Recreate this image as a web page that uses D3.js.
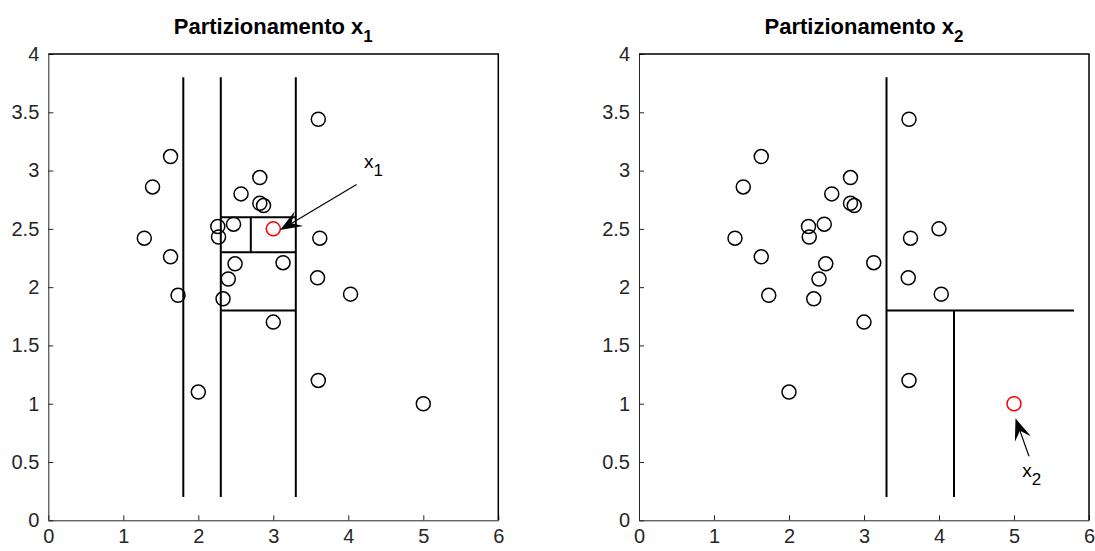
<!DOCTYPE html>
<html>
<head>
<meta charset="utf-8">
<script src="https://cdn.jsdelivr.net/npm/d3@7"></script>
<style>
  body { margin: 0; background: #fff; }
  svg { display: block; font-family: "Liberation Sans", Arial, Helvetica, sans-serif; }
</style>
</head>
<body>
<svg id="chart" width="1095" height="551"></svg>
<script>
// data
var xTicks = [0, 1, 2, 3, 4, 5, 6];
var yTicks = [0, 0.5, 1, 1.5, 2, 2.5, 3, 3.5, 4];

// points shared by both panels
var ptX = [3.60, 1.63, 1.39, 2.82, 2.57, 2.82, 2.87, 2.26, 2.47, 2.27, 1.28, 3.62,
           1.63, 2.49, 3.13, 2.40, 3.59, 1.73, 2.33, 4.03, 3.00, 3.60, 2.00];
var ptY = [3.44, 3.12, 2.86, 2.94, 2.80, 2.72, 2.70, 2.52, 2.54, 2.43, 2.42, 2.42,
           2.26, 2.20, 2.21, 2.07, 2.08, 1.93, 1.90, 1.94, 1.70, 1.20, 1.10];

// query points and the extra black point of each panel
var query1 = [3, 2.5];
var query2 = [5, 1];
var extra1 = [5, 1];
var extra2 = [4, 2.5];

// partition segments [x1, y1, x2, y2]
var cuts1 = [
  [1.8, 0.2, 1.8, 3.8],
  [2.3, 0.2, 2.3, 3.8],
  [3.3, 0.2, 3.3, 3.8],
  [2.3, 2.6, 3.3, 2.6],
  [2.3, 2.3, 3.3, 2.3],
  [2.3, 1.8, 3.3, 1.8],
  [2.7, 2.3, 2.7, 2.6]
];
var cuts2 = [
  [3.3, 0.2, 3.3, 3.8],
  [3.3, 1.8, 5.8, 1.8],
  [4.2, 0.2, 4.2, 1.8]
];

// arrows: tail, tip, label anchor
var arrow1 = {from: [4.11, 2.88], to: [3.09, 2.49], label: [4.21, 3.02], sub: "1"};
var arrow2 = {from: [5.20, 0.55], to: [5.02, 0.875], label: [5.11, 0.37], sub: "2"};

var svg = d3.select("#chart");

function styleAxis(a) {
  a.select(".domain").attr("stroke", "#262626");
  a.selectAll(".tick line").attr("stroke", "#262626");
  a.selectAll("text").style("font-size", "20px").attr("fill", "#262626");
}

function panel(left, sub, extra, query, cuts, arrow) {
  var x = d3.scaleLinear().domain([0, 6]).range([left, left + 450]);
  var y = d3.scaleLinear().domain([0, 4]).range([520.3, 54]);
  var g = svg.append("g");

  // title
  var t = g.append("text")
      .attr("x", left + 225)
      .attr("y", 34)
      .attr("text-anchor", "middle")
      .style("font-size", "22px")
      .style("font-weight", "bold")
      .attr("fill", "#000");
  t.append("tspan").text("Partizionamento x");
  t.append("tspan").attr("dy", 8).style("font-size", "17px").text(sub);

  // axes
  g.append("g")
      .attr("transform", "translate(0,520.3)")
      .call(d3.axisBottom(x).tickValues(xTicks).tickSizeInner(-5).tickSizeOuter(0).tickPadding(9).tickFormat(d3.format("d")))
      .call(styleAxis);
  g.append("g")
      .attr("transform", "translate(" + left + ",0)")
      .call(d3.axisLeft(y).tickValues(yTicks).tickSizeInner(-5).tickSizeOuter(0).tickPadding(9).tickFormat(function(d) { return d; }))
      .call(styleAxis);
  // box top & right
  g.append("path")
      .attr("d", "M" + x(0) + "," + y(4) + "H" + x(6) + "V" + y(0))
      .attr("fill", "none")
      .attr("stroke", "#000")
      .attr("stroke-width", 1.5);

  // partition lines
  g.selectAll(".cut").data(cuts).enter().append("line")
      .attr("x1", function(d) { return x(d[0]); })
      .attr("y1", function(d) { return y(d[1]); })
      .attr("x2", function(d) { return x(d[2]); })
      .attr("y2", function(d) { return y(d[3]); })
      .attr("stroke", "#000")
      .attr("stroke-width", 2);

  // points
  var pts = ptX.map(function(v, i) { return [v, ptY[i]]; }).concat([extra]);
  g.selectAll(".pt").data(pts).enter().append("circle")
      .attr("cx", function(d) { return x(d[0]); })
      .attr("cy", function(d) { return y(d[1]); })
      .attr("r", 7)
      .attr("fill", "none")
      .attr("stroke", "#000")
      .attr("stroke-width", 1.5);
  g.append("circle")
      .attr("cx", x(query[0]))
      .attr("cy", y(query[1]))
      .attr("r", 7)
      .attr("fill", "none")
      .attr("stroke", "#ff0000")
      .attr("stroke-width", 1.5);

  // arrow
  var x0 = x(arrow.from[0]), y0 = y(arrow.from[1]);
  var x1 = x(arrow.to[0]), y1 = y(arrow.to[1]);
  var dx = x0 - x1, dy = y0 - y1, len = Math.sqrt(dx * dx + dy * dy);
  var ux = dx / len, uy = dy / len, px = -uy, py = ux;
  var L = 22, W = 8.5;
  g.append("line")
      .attr("x1", x0).attr("y1", y0)
      .attr("x2", x1 + ux * 12).attr("y2", y1 + uy * 12)
      .attr("stroke", "#000").attr("stroke-width", 1.2);
  g.append("path")
      .attr("d", "M" + x1 + "," + y1 +
        "L" + (x1 + ux * L + px * W) + "," + (y1 + uy * L + py * W) +
        "L" + (x1 + ux * L * 0.6) + "," + (y1 + uy * L * 0.6) +
        "L" + (x1 + ux * L - px * W) + "," + (y1 + uy * L - py * W) + "Z")
      .attr("fill", "#000");

  var lab = g.append("text")
      .attr("x", x(arrow.label[0]))
      .attr("y", y(arrow.label[1]))
      .style("font-size", "19px")
      .attr("fill", "#000");
  lab.append("tspan").text("x");
  lab.append("tspan").attr("dy", 8).style("font-size", "17px").text(arrow.sub);
}

panel(48.3, "1", extra1, query1, cuts1, arrow1);
panel(639, "2", extra2, query2, cuts2, arrow2);
</script>
</body>
</html>
